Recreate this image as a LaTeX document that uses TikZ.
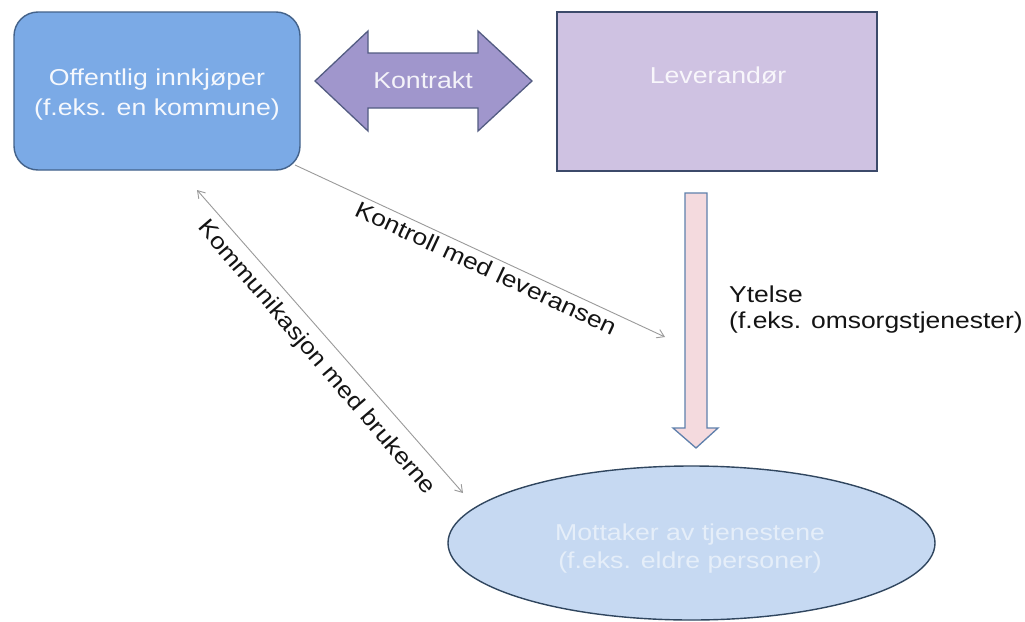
\documentclass[tikz,border=0pt]{standalone}
\usepackage{fontspec}
\setmainfont{Liberation Sans}
\usetikzlibrary{arrows.meta,shapes.geometric}
\definecolor{buyerfill}{HTML}{7BAAE6}
\definecolor{buyerline}{HTML}{43628A}
\definecolor{dblfill}{HTML}{A096CC}
\definecolor{dblline}{HTML}{535C82}
\definecolor{levfill}{HTML}{CFC2E2}
\definecolor{levline}{HTML}{3C4A6A}
\definecolor{downfill}{HTML}{F4DADE}
\definecolor{downline}{HTML}{5F80AC}
\definecolor{ellfill}{HTML}{C6D9F2}
\definecolor{ellline}{HTML}{30465F}
\definecolor{connline}{HTML}{9A9A9A}
\begin{document}
\begin{tikzpicture}[x=1pt,y=-1pt,
  shapebox/.style={line width=1.4pt, inner sep=0pt},
  intext/.style={font=\fontsize{23}{30}\selectfont, inner sep=0pt, align=center, xscale=1.16},
  lbl/.style={font=\fontsize{23}{26}\selectfont, text=black!92, inner sep=0pt},
  conn/.style={draw=connline, line width=0.9pt},
  vtip/.tip={Straight Barb[length=7pt,width=9pt]}]
\useasboundingbox (0,0) rectangle (1025,621);
\fill[white] (0,0) rectangle (1025,621);

% shapes
\node[shapebox, draw=buyerline, fill=buyerfill, rounded corners=24pt,
      minimum width=286pt, minimum height=158pt] (buyer) at (157,91) {};
\node[shapebox, draw=levline, fill=levfill,
      minimum width=320pt, minimum height=159pt] (lev) at (717,91.5) {};
\node[shapebox, ellipse, draw=ellline, fill=ellfill,
      minimum width=487pt, minimum height=154pt] (user) at (691.5,543) {};

% double arrow (Kontrakt)
\draw[line width=1.3pt, draw=dblline, fill=dblfill, line join=miter]
  (315,81) -- (368,31) -- (368,53) -- (478,53) -- (478,31) -- (532,81)
  -- (478,131) -- (478,108) -- (368,108) -- (368,131) -- cycle;

% down arrow (Ytelse)
\draw[line width=1.3pt, draw=downline, fill=downfill, line join=miter]
  (685,193) -- (707,193) -- (707,428) -- (718,428) -- (696,448)
  -- (673,428) -- (685,428) -- cycle;

% texts inside shapes
\node[intext, text=white!92!buyerfill] (buyertxt) at (157,95)
  {Offentlig innkjøper\\(f.eks. en kommune)};
\node[intext, text=white!88!dblfill] (kontrakt) at (423,80) {Kontrakt};
\node[intext, text=white!85!levfill] (levtxt) at (718,75) {Leverandør};
\node[intext, text=white!55!ellfill, font=\fontsize{23}{28}\selectfont] (usertxt) at (690,549)
  {Mottaker av tjenestene\\(f.eks. eldre personer)};

% Ytelse label
\node[lbl, anchor=west, align=left, xscale=1.15] (ytelse) at (729,310)
  {Ytelse\\(f.eks. omsorgstjenester)};

% connectors
\coordinate (kstart) at (295,165);
\coordinate (kend) at (665,337);
\draw[conn, -vtip] (kstart) -- (kend);
\node[lbl, rotate=-25, xscale=1.15] (kontroll) at (486,268) {Kontroll med leveransen};

\coordinate (cstart) at (197,190);
\coordinate (cend) at (463,493);
\draw[conn, vtip-vtip] (cstart) -- (cend);
\node[lbl, rotate=-49.5, xscale=1.13] (komm) at (316,358) {Kommunikasjon med brukerne};
\end{tikzpicture}
\end{document}
